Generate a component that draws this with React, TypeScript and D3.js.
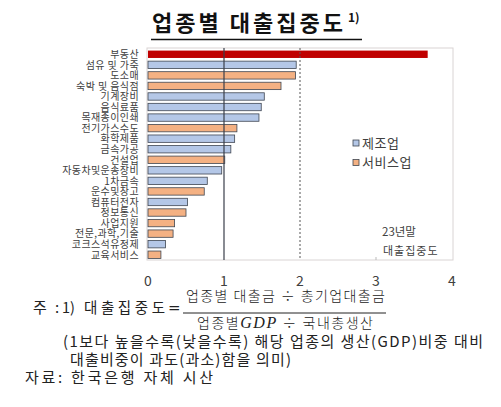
import React from "react";
import * as d3 from "d3";

const categories = [
  "부동산", "섬유 및 가죽", "도소매", "숙박 및 음식점", "기계장비", "음식료품", "목재종이인쇄",
  "전기가스수도", "화학제품", "금속가공", "건설업", "자동차및운송장비", "1차금속", "운수및창고",
  "컴퓨터전자", "정보통신", "사업지원", "전문,과학,기술", "코크스석유정제", "교육서비스",
];
const values = [
  3.68, 1.95, 1.94, 1.75, 1.53, 1.49, 1.46, 1.17, 1.14, 1.09, 1.01, 0.97, 0.78, 0.74, 0.52, 0.5,
  0.35, 0.33, 0.23, 0.17,
];
// m = 제조업, s = 서비스업, r = 부동산(highlight)
const groups = ["r", "m", "s", "s", "m", "m", "m", "s", "m", "m", "s", "m", "m", "s", "m", "s", "s", "s", "m", "s"];
const xTicks = [0, 1, 2, 3, 4];
const legendLabels = ["제조업", "서비스업"];

const W = 501;
const H = 407;
const FONT = "'Noto Sans CJK KR', 'Noto Sans', sans-serif";

const fillOf: Record<string, string> = { r: "#C00000", m: "#B4C7E7", s: "#F4B183" };

export default function App() {
  const x = d3.scaleLinear().domain([0, 4]).range([148, 452]);
  const y = d3.scaleBand<string>().domain(categories).range([49, 260]).paddingInner(0.3).paddingOuter(0.15);
  const frame = { x0: 147, x1: 453, y0: 48, y1: 260 };

  return (
    <svg width={W} height={H} style={{ position: "absolute", left: 0, top: 0, background: "#fff" }}>
      {/* Title */}
      <text x={152} y={31} fontFamily={FONT} fontWeight={700} fontSize={22} fill="#111" textLength={191} lengthAdjust="spacing">
        업종별 대출집중도
      </text>
      <text x={348} y={22} fontFamily={FONT} fontWeight={700} fontSize={12} fill="#111">1)</text>
      <line x1={151} x2={362} y1={39.5} y2={39.5} stroke="#111" strokeWidth={1.6} />

      {/* plot frame */}
      <rect x={frame.x0} y={frame.y0} width={frame.x1 - frame.x0} height={frame.y1 - frame.y0} fill="none" stroke="#d9d4d4" strokeWidth={1} />

      {/* bars */}
      {categories.map((c, i) => (
        <rect
          key={c}
          x={x(0)}
          y={y(c)!}
          width={x(values[i]) - x(0)}
          height={y.bandwidth()}
          fill={fillOf[groups[i]]}
          stroke={groups[i] === "r" ? "none" : "#3f4652"}
          strokeWidth={0.8}
        />
      ))}

      {/* reference lines */}
      <line x1={x(1)} x2={x(1)} y1={frame.y0} y2={frame.y1} stroke="#3a3f4a" strokeWidth={1.2} />
      <line x1={x(2)} x2={x(2)} y1={frame.y0} y2={frame.y1} stroke="#555" strokeWidth={1} strokeDasharray="2,2" />
      <line x1={x(3)} x2={x(3)} y1={frame.y1 - 3} y2={frame.y1} stroke="#bbb" strokeWidth={1} />

      {/* category labels */}
      {categories.map((c) => (
        <text
          key={c}
          x={139}
          y={y(c)! + y.bandwidth() / 2}
          dy="0.38em"
          textAnchor="end"
          fontFamily={FONT}
          fontSize={10}
          letterSpacing={0.4}
          fill="#404040"
        >
          {c}
        </text>
      ))}

      {/* x tick labels */}
      {xTicks.map((t) => (
        <text key={t} x={x(t)} y={281} dy="0.35em" textAnchor="middle" fontFamily={FONT} fontSize={14} fill="#404040">
          {t}
        </text>
      ))}

      {/* legend */}
      {legendLabels.map((l, i) => (
        <g key={l}>
          <rect x={353} y={140 + i * 19.5} width={6} height={6} fill={i === 0 ? fillOf.m : fillOf.s} stroke="#3f4652" strokeWidth={0.8} />
          <text x={362} y={143 + i * 19.5} dy="0.35em" fontFamily={FONT} fontSize={13} fill="#404040" letterSpacing={0.5}>
            {l}
          </text>
        </g>
      ))}

      <text x={382} y={232} dy="0.35em" fontFamily={FONT} fontSize={11.5} fill="#404040">23년말</text>
      <text x={383} y={251} dy="0.35em" fontFamily={FONT} fontSize={11} fill="#404040" letterSpacing={1}>대출집중도</text>

      {/* footnote */}
      <text x={33} y={308} dy="0.35em" fontFamily={FONT} fontSize={15} fill="#222">주</text>
      <text x={55} y={308} dy="0.35em" fontFamily={FONT} fontSize={15} fill="#222">:</text>
      <text x={62} y={308} dy="0.35em" fontFamily={FONT} fontSize={14.5} fill="#222">1)</text>
      <text x={84} y={308} dy="0.35em" fontFamily={FONT} fontSize={14.5} fill="#222" textLength={81} lengthAdjust="spacing">대출집중도</text>
      <text x={168} y={308} dy="0.35em" fontFamily="'DejaVu Serif', serif" fontSize={15} fill="#222">=</text>
      <text x={186} y={296} dy="0.35em" fontFamily={FONT} fontWeight={300} fontSize={14} fill="#222" textLength={199} lengthAdjust="spacing">
        업종별 대출금 ÷ 총기업대출금
      </text>
      <line x1={183} x2={386} y1={313} y2={313} stroke="#222" strokeWidth={1} />
      <text x={197} y={323} dy="0.35em" fontFamily={FONT} fontWeight={300} fontSize={14} fill="#222" textLength={176} lengthAdjust="spacing">
        업종별
        <tspan fontFamily="'Liberation Serif', 'DejaVu Serif', serif" fontStyle="italic" fontSize={16}>GDP</tspan>
        <tspan> ÷ 국내총생산</tspan>
      </text>
      <text x={63} y={342} dy="0.35em" fontFamily={FONT} fontSize={15} fill="#222" textLength={420} lengthAdjust="spacing">
        (1보다 높을수록(낮을수록) 해당 업종의 생산(GDP)비중 대비
      </text>
      <text x={70} y={360} dy="0.35em" fontFamily={FONT} fontSize={15} fill="#222" textLength={221} lengthAdjust="spacing">
        대출비중이 과도(과소)함을 의미)
      </text>
      <text x={25} y={378} dy="0.35em" fontFamily={FONT} fontSize={15} fill="#222" textLength={188} lengthAdjust="spacing">
        자료: 한국은행 자체 시산
      </text>
    </svg>
  );
}
